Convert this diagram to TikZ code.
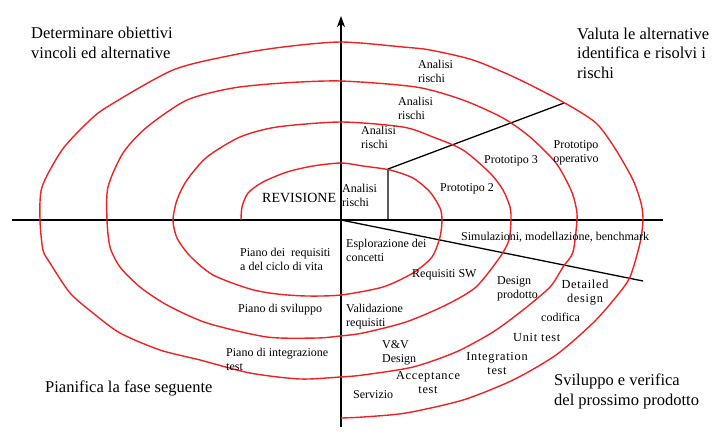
\documentclass[tikz,border=0pt]{standalone}
\usepackage{fontspec}
\setmainfont{Liberation Serif}
\usetikzlibrary{arrows.meta}
\begin{document}
\begin{tikzpicture}[x=1pt,y=-1pt,
  big/.style={font=\fontsize{16.5}{19.5}\selectfont, align=left, anchor=base west, inner sep=0pt},
  lbl/.style={font=\fontsize{12}{14}\selectfont, align=left, anchor=base west, inner sep=0pt},
  lblc/.style={font=\fontsize{12}{14}\selectfont, align=center, anchor=base, inner sep=0pt},
  wide/.style={font=\fontsize{12.3}{14}\selectfont\addfontfeature{LetterSpace=6}},
  axis/.style={draw=black, line width=1.4pt},
  thin/.style={draw=black, line width=1.3pt},
  spiral/.style={draw={rgb,255:red,238;green,34;blue,34}, line width=1.4pt, line join=round}]
\useasboundingbox (0,0) rectangle (727,440);
% coordinates
\coordinate (hl) at (12,220);
\coordinate (hr) at (663,220);
\coordinate (vb) at (341,427);
\coordinate (vt) at (341,16);
\coordinate (o) at (341,220);
\coordinate (dg) at (643,281);
\coordinate (pb) at (388,220);
\coordinate (pk) at (388,169);
\coordinate (pe) at (564,103);
% axes
\draw[axis] (hl) -- (hr);
\draw[axis,-{Stealth[length=11pt,width=8pt,inset=3pt]}] (vb) -- (vt);
\draw[thin] (o) -- (dg);
\draw[thin] (pb) -- (pk) -- (pe);
% spiral
\draw[spiral] plot[smooth, tension=0.45] coordinates {
 (241,220) (242,207) (248,193) (263,182) (287,172) (313,166) (341,163) (363,166) (390,170) (413,178) (430,192) (440,208) (442,220)
 (440,237) (432,257) (413,273) (383,287) (341,295) (307,296) (277,294) (250,289) (213,275) (190,256) (177,238) (173,220)
 (177,200) (187,180) (207,157) (240,137) (277,127) (341,122) (403,127) (433,137) (463,150) (490,173) (503,190) (510,207) (511,220)
 (509,240) (500,257) (476,287) (446,305) (406,322) (363,333) (340,336) (317,338) (267,337) (207,323) (167,305) (140,287) (120,267) (110,247) (107,220)
 (108,187) (123,153) (147,127) (187,100) (233,88) (283,83) (341,81) (416,87) (463,100) (503,118) (530,137) (556,163) (571,190) (576,207) (577,220)
 (573,252) (563,267) (550,287) (523,310) (493,332) (456,352) (413,367) (363,375) (340,377) (300,379) (250,373) (200,360) (160,350) (120,333) (93,313) (70,293) (50,263) (43,250) (40,220)
 (42,187) (62,150) (87,123) (107,107) (173,70) (233,55) (283,47) (341,42) (403,47) (430,50) (473,60) (516,78) (563,102) (596,123) (616,150) (633,180) (641,203) (643,220)
 (640,243) (630,277) (616,297) (593,323) (556,355) (513,380) (463,400) (406,413) (363,417) (341,418)
};
% corner texts (anchor = baseline of last line)
\node[big] (q1) at (31,58) {Determinare obiettivi\\vincoli ed alternative};
\node[big] (q2) at (577,78) {Valuta le alternative\\identifica e risolvi i\\rischi};
\node[big] (q3) at (45,392) {Pianifica la fase seguente};
\node[big] (q4) at (554,405) {Sviluppo e verifica\\del prossimo prodotto};
% labels
\node[lbl, font=\fontsize{14}{16}\selectfont] (rev) at (262,202) {REVISIONE};
\node[lbl] (ar1) at (342,206) {Analisi\\rischi};
\node[lbl] (ar2) at (361,148) {Analisi\\rischi};
\node[lbl] (ar3) at (398,119) {Analisi\\rischi};
\node[lbl] (ar4) at (418,82) {Analisi\\rischi};
\node[lbl] (p2) at (440,191) {Prototipo 2};
\node[lbl] (p3) at (484,163) {Prototipo 3};
\node[lblc] (po) at (576,162) {Prototipo\\operativo};
\node[lbl] (sim) at (461,240) {Simulazioni, modellazione, benchmark};
\node[lbl] (esp) at (346,261) {Esplorazione dei\\concetti};
\node[lbl] (rsw) at (412,277) {Requisiti SW};
\node[lbl] (dp) at (497,298) {Design\\prodotto};
\node[lblc, wide] (dd) at (585,302) {Detailed\\design};
\node[lbl] (cod) at (541,321) {codifica};
\node[lbl, wide] (ut) at (513,341) {Unit test};
\node[lblc, wide] (it) at (497,374) {Integration\\test};
\node[lblc, wide] (at) at (428,393) {Acceptance\\test};
\node[lbl] (vv) at (382,362) {V\&V\\Design};
\node[lbl] (ser) at (353,398) {Servizio};
\node[lbl] (val) at (346,326) {Validazione\\requisiti};
\node[lbl] (pr) at (240,270) {Piano dei\ \ requisiti\\a del ciclo di vita};
\node[lbl] (ps) at (238,312) {Piano di sviluppo};
\node[lbl] (pi) at (226,370) {Piano di integrazione\\test};
\end{tikzpicture}
\end{document}
